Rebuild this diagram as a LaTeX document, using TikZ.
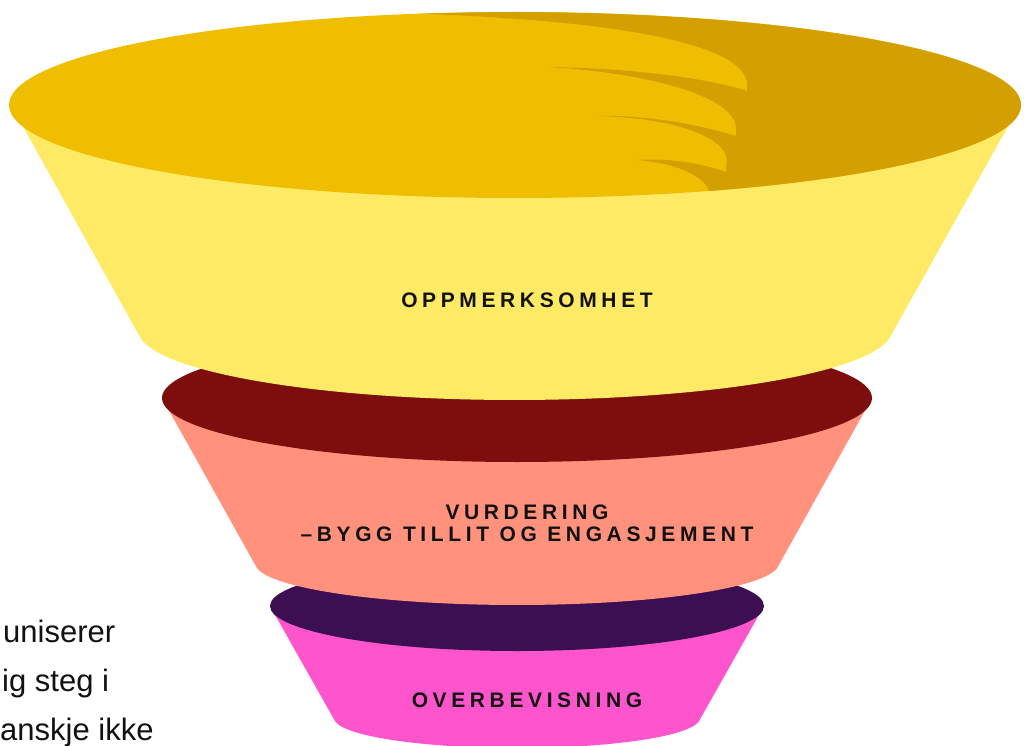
\documentclass[tikz,border=0pt]{standalone}
\usepackage{fontspec}
\setmainfont{Liberation Sans}
\newfontfamily\stagefont{Liberation Sans}[LetterSpace=22]

\definecolor{gold}{HTML}{EFBE00}
\definecolor{darkgold}{HTML}{D49F00}
\definecolor{lightyellow}{HTML}{FFEA66}
\definecolor{maroon}{HTML}{7E0E0E}
\definecolor{salmon}{HTML}{FF917D}
\definecolor{plum}{HTML}{3C0E52}
\definecolor{pink}{HTML}{FF55CC}
\definecolor{ink}{HTML}{111111}

\begin{document}
\begin{tikzpicture}[
    x=1pt, y=-1pt,
    every node/.style={align=center, inner sep=0pt},
    stage label/.style={text=ink, font=\stagefont\bfseries\fontsize{21}{22}\selectfont},
    side text/.style={anchor=base west, text=ink, font=\fontsize{31}{36}\selectfont},
    ]
\useasboundingbox (0,0) rectangle (1031,746);
% bottom stage
\fill[pink] (270,606) -- (335.4,721.7) arc[start angle=173, end angle=7, x radius=183, y radius=30] -- (764,606) -- cycle;
\fill[plum] (517,606) ellipse[x radius=247, y radius=45];
% middle stage
\fill[salmon] (162,398) -- (257,568.1) arc[start angle=173, end angle=7, x radius=262, y radius=42] -- (872,398) -- cycle;
\fill[maroon] (517,398) ellipse[x radius=355, y radius=64];
% top stage
\fill[lightyellow] (11,105) -- (140.8,338.5) arc[start angle=173, end angle=7, x radius=377, y radius=70] -- (1020,105) -- cycle;
\fill[gold] (515,105) ellipse[x radius=506, y radius=93];
\fill[darkgold] (709,191) arc[start angle=67.45, end angle=-100.8, x radius=506, y radius=93]
    .. controls (650,22) and (750,50) .. (747,86) -- (747,91)
    .. controls (700,76) and (620,68) .. (547,67)
    .. controls (640,72) and (740,95) .. (736,131) -- (736,136)
    .. controls (690,122) and (640,115) .. (597,116)
    .. controls (680,118) and (735,140) .. (726,167) -- (726,172)
    .. controls (700,163) and (670,158) .. (636,160)
    .. controls (680,163) and (705,178) .. (709,191) -- cycle;
\node[stage label] (oppmerksomhet) at (527,300) {OPPMERKSOMHET};
\node[stage label] (vurdering) at (527,523) {VURDERING\\–BYGG TILLIT OG ENGASJEMENT};
\node[stage label] (overbevisning) at (527,700) {OVERBEVISNING};
\node[side text] (lineA) at (3,642) {uniserer};
\node[side text] (lineB) at (2,691) {ig steg i};
\node[side text] (lineC) at (0,740) {anskje ikke};
\end{tikzpicture}
\end{document}
